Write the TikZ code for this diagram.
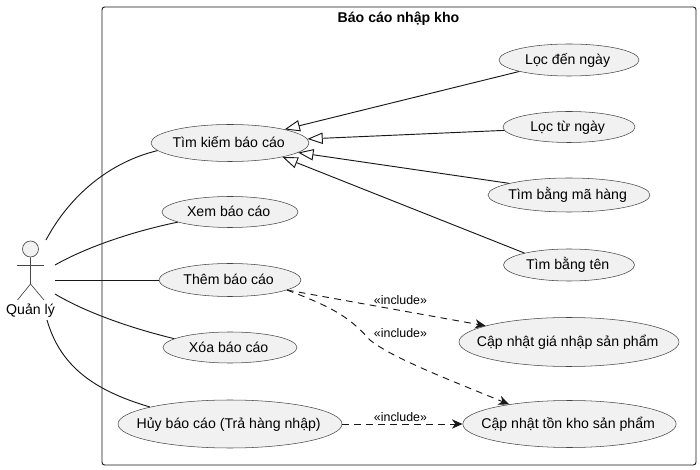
\documentclass[tikz,border=0pt]{standalone}
\usepackage{fontspec}
\setmainfont{Liberation Sans}
\usetikzlibrary{arrows.meta,shapes.geometric}

\begin{document}
\begin{tikzpicture}[x=0.75pt,y=-0.75pt,font=\fontsize{10.6}{12}\selectfont]
  \definecolor{ucfill}{HTML}{F1F1F1}
  \definecolor{ucline}{HTML}{181818}
  \tikzstyle{usecase}=[draw=ucline!80, fill=ucfill, shape=ellipse, line width=0.4pt, inner ysep=0pt, inner xsep=-40pt, text height=8pt, text depth=1.2pt, execute at end node={\kern 2pt}]
  \tikzstyle{empt} = [draw=none,fill=none]
  \tikzstyle{incltext} = [empt, font=\fontsize{9.3}{10}\selectfont]
  \tikzstyle{assoc}=[draw=ucline, line width=0.7pt]
  \tikzstyle{extends}=[assoc, {Triangle[open,fill=white,length=11.5pt,width=8.5pt]}-]
  \tikzstyle{incl}=[assoc, dash pattern=on 5pt off 4pt, -{Stealth[length=8pt,width=7pt,inset=2.5pt]}]
  \tikzstyle{stick}=[draw=ucline!80, line width=0.5pt]
  \useasboundingbox (0,0) rectangle (700,470);
  \draw[ucline, line width=0.7pt, rounded corners=2pt] (102,7) rectangle (696,465);
  \node[empt, font=\fontsize{10.6}{12}\selectfont\bfseries] (title) at (398.5,19) {Báo cáo nhập kho};

  \node[usecase, minimum width=118.5pt, minimum height=27.75pt] (kiem) at (230,143) {Tìm kiếm báo cáo};
  \node[usecase, minimum width=102pt, minimum height=23.25pt] (xem) at (230,212) {Xem báo cáo};
  \node[usecase, minimum width=106.5pt, minimum height=24.75pt] (them) at (230,280) {Thêm báo cáo};
  \node[usecase, minimum width=100.5pt, minimum height=23.25pt] (xoa) at (230,347.5) {Xóa báo cáo};
  \node[usecase, minimum width=168pt, minimum height=36pt] (huy) at (230,424) {Hủy báo cáo (Trả hàng nhập)};
  \node[usecase, minimum width=105pt, minimum height=24pt] (den) at (569,60) {Lọc đến ngày};
  \node[usecase, minimum width=99pt, minimum height=23.25pt] (tu) at (569,127) {Lọc từ ngày};
  \node[usecase, minimum width=121.5pt, minimum height=25.5pt] (mahang) at (569,195) {Tìm bằng mã hàng};
  \node[usecase, minimum width=98.25pt, minimum height=24pt] (ten) at (569,265) {Tìm bằng tên};
  \node[usecase, minimum width=165pt, minimum height=36.75pt] (gia) at (569,342) {Cập nhật giá nhập sản phẩm};
  \node[usecase, minimum width=160pt, minimum height=35.25pt] (ton) at (569.5,424) {Cập nhật tồn kho sản phẩm};

  \node[draw=ucline!80, fill=ucfill, shape=circle, line width=0.5pt, inner sep=0pt, minimum size=12pt] (head) at (30.5,249) {};
  \node[empt] (quanly) at (30.5,311) {Quản lý};
  \coordinate (hip) at (30.5,284);
  \coordinate (armL) at (17,265);
  \coordinate (armR) at (44,265);
  \coordinate (footL) at (17.5,300);
  \coordinate (footR) at (44,300);
  \draw[stick] (head.south) -- (hip) -- (footL);
  \draw[stick] (hip) -- (footR);
  \draw[stick] (armL) -- (armR);

  \coordinate (qlA) at (46,240);
  \coordinate (qlB) at (55,265);
  \coordinate (qlC) at (55,280);
  \coordinate (qlD) at (55,294);
  \coordinate (qlE) at (47,320);
  \draw[assoc] (qlA) .. controls (70,195) and (110,162) .. (kiem.186);
  \draw[assoc] (qlB) .. controls (85,248) and (130,232) .. (xem.191);
  \draw[assoc] (qlC) -- (them.west);
  \draw[assoc] (qlD) .. controls (85,312) and (130,328) .. (xoa.171);
  \draw[assoc] (qlE) .. controls (60,365) and (92,390) .. (huy.168);

  \draw[extends] (kiem.14) -- (den.193);
  \draw[extends] (kiem.3) -- (tu.183);
  \draw[extends] (kiem.-8) -- (mahang.169);
  \draw[extends] (kiem.-15) -- (ten.165);

  \draw[incl] (them.-10) -- (gia.169);
  \draw[incl] (them.-10) .. controls (335,308) and (350,318) .. (370,340) .. controls (392,358) and (450,380) .. (ton.162);
  \draw[incl] (huy.east) -- (ton.west);
  \node[incltext] (lblA) at (400.5,300) {«include»};
  \node[incltext] (lblB) at (400.5,333) {«include»};
  \node[incltext] (lblC) at (400.5,417) {«include»};
\end{tikzpicture}
\end{document}
